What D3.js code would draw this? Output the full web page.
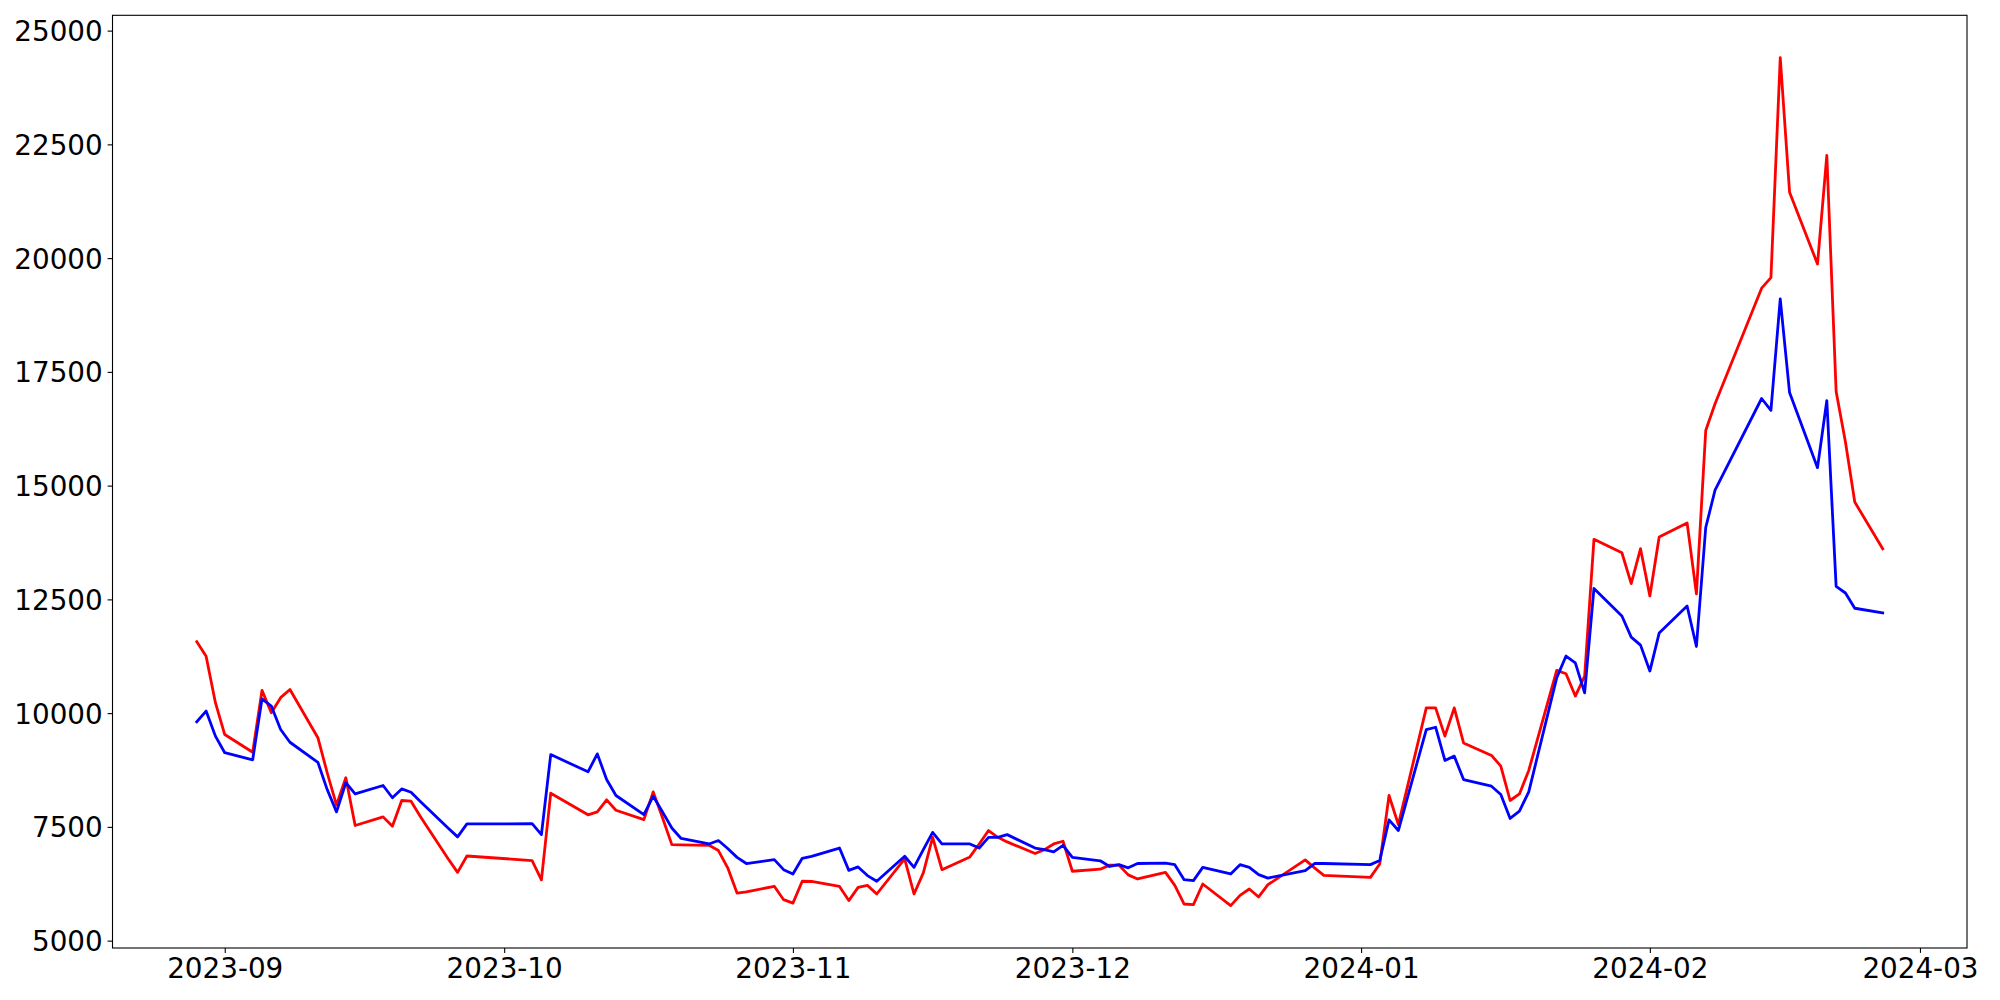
<!DOCTYPE html>
<html>
<head>
<meta charset="utf-8">
<script src="https://cdn.jsdelivr.net/npm/d3@7"></script>
<style>
  html, body { margin: 0; padding: 0; background: #ffffff; }
  svg { display: block; }
  text { font-family: "DejaVu Sans", sans-serif; }
</style>
</head>
<body>
<svg id="chart" width="2000" height="1000"></svg>
<script>
const dates = [
  "2023-08-29","2023-08-30","2023-08-31","2023-09-01","2023-09-04","2023-09-05","2023-09-06","2023-09-07","2023-09-08",
  "2023-09-11","2023-09-12","2023-09-13","2023-09-14","2023-09-15","2023-09-18","2023-09-19","2023-09-20","2023-09-21",
  "2023-09-22","2023-09-25","2023-09-26","2023-09-27","2023-10-04","2023-10-05","2023-10-06","2023-10-10","2023-10-11",
  "2023-10-12","2023-10-13","2023-10-16","2023-10-17","2023-10-18","2023-10-19","2023-10-20","2023-10-23","2023-10-24",
  "2023-10-25","2023-10-26","2023-10-27","2023-10-30","2023-10-31","2023-11-01","2023-11-02","2023-11-03","2023-11-06",
  "2023-11-07","2023-11-08","2023-11-09","2023-11-10","2023-11-13","2023-11-14","2023-11-15","2023-11-16","2023-11-17",
  "2023-11-20","2023-11-21","2023-11-22","2023-11-23","2023-11-24","2023-11-27","2023-11-28","2023-11-29","2023-11-30",
  "2023-12-01","2023-12-04","2023-12-05","2023-12-06","2023-12-07","2023-12-08","2023-12-11","2023-12-12","2023-12-13",
  "2023-12-14","2023-12-15","2023-12-18","2023-12-19","2023-12-20","2023-12-21","2023-12-22","2023-12-26","2023-12-27",
  "2023-12-28","2024-01-02","2024-01-03","2024-01-04","2024-01-05","2024-01-08","2024-01-09","2024-01-10","2024-01-11",
  "2024-01-12","2024-01-15","2024-01-16","2024-01-17","2024-01-18","2024-01-19","2024-01-22","2024-01-23","2024-01-24",
  "2024-01-25","2024-01-26","2024-01-29","2024-01-30","2024-01-31","2024-02-01","2024-02-02","2024-02-05","2024-02-06",
  "2024-02-07","2024-02-08","2024-02-13","2024-02-14","2024-02-15","2024-02-16","2024-02-19","2024-02-20","2024-02-21",
  "2024-02-22","2024-02-23","2024-02-26"
];

const redValues = [
  11570,11250,10230,9530,9140,10500,10010,10340,10520,
  9460,8690,7980,8580,7530,7720,7515,8080,8065,
  7730,6795,6500,6860,6760,6335,8240,7765,7830,
  8095,7865,7660,8270,7700,7110,7105,7095,6980,
  6600,6045,6070,6195,5900,5825,6305,6300,6190,
  5880,6170,6215,6025,6795,6025,6490,7270,6560,
  6840,7125,7420,7270,7170,6915,7000,7125,7185,
  6525,6570,6660,6660,6445,6355,6500,6215,5805,
  5790,6245,5770,5995,6135,5960,6230,6775,6600,
  6435,6390,6685,8190,7550,10115,10115,9495,10115,
  9345,9070,8835,8080,8225,8740,10940,10865,10375,
  10815,13820,13525,12845,13615,12575,13870,14180,12620,
  16210,16800,19340,19570,24405,21450,19870,22260,17070,
  15960,14640,13610
];

const blueValues = [
  9810,10045,9495,9130,8975,10315,10155,9640,9360,
  8920,8320,7830,8470,8225,8410,8140,8335,8260,
  8060,7470,7280,7565,7570,7330,9090,8710,9105,
  8540,8190,7770,8175,7830,7475,7245,7125,7200,
  7025,6830,6695,6780,6560,6465,6810,6850,7035,
  6545,6620,6430,6305,6855,6610,7000,7380,7125,
  7125,7035,7270,7270,7330,7035,7000,6950,7095,
  6830,6755,6630,6670,6600,6695,6705,6670,6340,
  6320,6610,6465,6670,6610,6450,6375,6540,6695,
  6695,6670,6760,7655,7420,9640,9690,8960,9055,
  8540,8395,8210,7685,7845,8270,10775,11255,11105,
  10445,12740,12135,11670,11495,10925,11760,12355,11465,
  14080,14900,16915,16655,19105,17045,15395,16870,12785,
  12640,12305,12205
];

const yTickValues = [5000, 7500, 10000, 12500, 15000, 17500, 20000, 22500, 25000];
const xTickDates = ["2023-09-01","2023-10-01","2023-11-01","2023-12-01","2024-01-01","2024-02-01","2024-03-01"];

const parse = d3.utcParse("%Y-%m-%d");
const parsedDates = dates.map(parse);
const red = parsedDates.map((d, i) => ({ date: d, value: redValues[i] }));
const blue = parsedDates.map((d, i) => ({ date: d, value: blueValues[i] }));

const plot = { left: 112.5, right: 1967, top: 15.3, bottom: 948 };

// matplotlib-style 5% margins
const [x0, x1] = d3.extent(parsedDates);
const xPad = (x1 - x0) * 0.05;
const allVals = redValues.concat(blueValues);
const [y0, y1] = d3.extent(allVals);
const yPad = (y1 - y0) * 0.05;

const x = d3.scaleUtc()
  .domain([new Date(+x0 - xPad), new Date(+x1 + xPad)])
  .range([plot.left, plot.right]);
const y = d3.scaleLinear()
  .domain([y0 - yPad, y1 + yPad])
  .range([plot.bottom, plot.top]);

const svg = d3.select("#chart");
svg.append("rect").attr("width", 2000).attr("height", 1000).attr("fill", "#ffffff");

const line = d3.line().x(d => x(d.date)).y(d => y(d.value));

svg.append("path").datum(red)
  .attr("fill", "none").attr("stroke", "#ff0000")
  .attr("stroke-width", 2.8).attr("stroke-linejoin", "round").attr("stroke-linecap", "square")
  .attr("d", line);
svg.append("path").datum(blue)
  .attr("fill", "none").attr("stroke", "#0000ff")
  .attr("stroke-width", 2.8).attr("stroke-linejoin", "round").attr("stroke-linecap", "square")
  .attr("d", line);

const fontPx = 27.8;

// X axis
const xAxis = d3.axisBottom(x)
  .tickValues(xTickDates.map(parse))
  .tickFormat(d3.utcFormat("%Y-%m"))
  .tickSizeOuter(0)
  .tickSizeInner(4.9)
  .tickPadding(4.9);
const gx = svg.append("g").attr("transform", `translate(0,${plot.bottom})`).call(xAxis);
gx.select(".domain").remove();
gx.selectAll(".tick line").attr("stroke", "#000").attr("stroke-width", 1.1);
gx.selectAll(".tick text").attr("font-size", fontPx).attr("fill", "#000")
  .attr("font-family", "DejaVu Sans, sans-serif").attr("dy", "0.72em");

// Y axis
const yAxis = d3.axisLeft(y)
  .tickValues(yTickValues)
  .tickFormat(d3.format("d"))
  .tickSizeOuter(0)
  .tickSizeInner(4.9)
  .tickPadding(4.9);
const gy = svg.append("g").attr("transform", `translate(${plot.left},0)`).call(yAxis);
gy.select(".domain").remove();
gy.selectAll(".tick line").attr("stroke", "#000").attr("stroke-width", 1.1);
gy.selectAll(".tick text").attr("font-size", fontPx).attr("fill", "#000")
  .attr("font-family", "DejaVu Sans, sans-serif").attr("dy", "0.36em");

// Frame (spines)
svg.append("rect")
  .attr("x", plot.left).attr("y", plot.top)
  .attr("width", plot.right - plot.left).attr("height", plot.bottom - plot.top)
  .attr("fill", "none").attr("stroke", "#000").attr("stroke-width", 1.1);
</script>
</body>
</html>
